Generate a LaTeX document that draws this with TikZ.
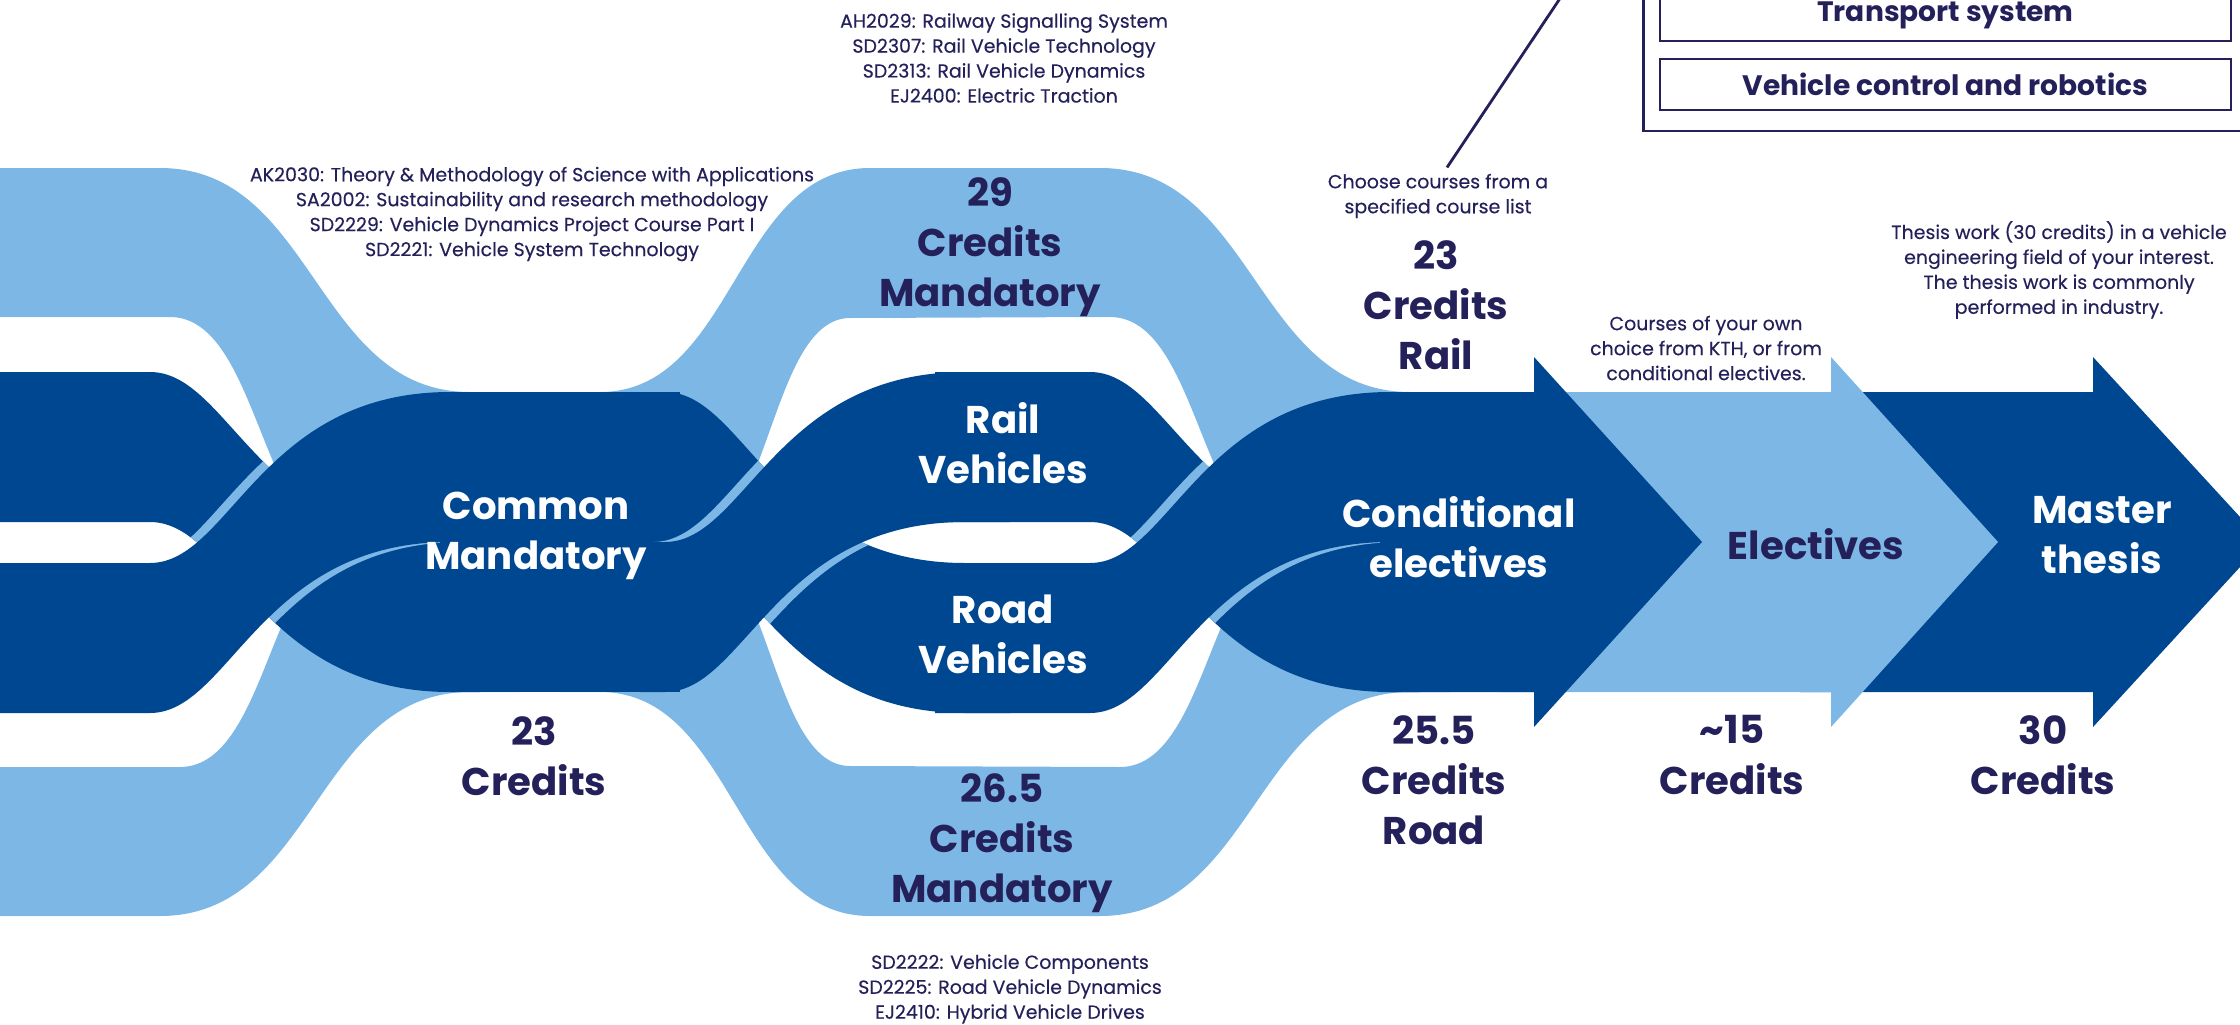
\documentclass[tikz,border=0pt]{standalone}
\usepackage{fontspec}
\setmainfont{Poppins}
\newfontfamily\notefont{Poppins}[FakeBold=0.3]
\definecolor{kthblue}{HTML}{004791}
\definecolor{skyblue}{HTML}{7DB7E6}
\definecolor{inknavy}{HTML}{24205A}

% outlines of the crossing tracks (picture units are pixels, y down)
\newcommand{\bandDone}{(-5,372) -- (150,372) .. controls (230,372) and (260,542) .. (450,542) -- (480,542) -- (480,692) -- (450,692) .. controls (260,692) and (230,522) .. (150,522) -- (-5,522) -- cycle}
\newcommand{\bandFone}{(-5,563) -- (150,563) .. controls (230,563) and (260,392) .. (450,392) -- (480,392) -- (480,542) -- (450,542) .. controls (260,542) and (230,713) .. (150,713) -- (-5,713) -- cycle}
\newcommand{\bandDtwo}{(640,392) -- (665,392) .. controls (745,392) and (775,563) .. (965,563) -- (1010,563) -- (1010,713) -- (965,713) .. controls (775,713) and (745,542) .. (665,542) -- (640,542) -- cycle}
\newcommand{\bandFtwo}{(640,542) -- (665,542) .. controls (745,542) and (775,372) .. (965,372) -- (1010,372) -- (1010,522) -- (965,522) .. controls (775,522) and (745,692) .. (665,692) -- (640,692) -- cycle}

\begin{document}
\begin{tikzpicture}[x=0.02cm, y=-0.02cm,
  bigtxt/.style={font=\fontsize{22}{28.5}\selectfont\bfseries, align=center, inner sep=0pt},
  smalltxt/.style={font=\fontsize{10.8}{14.2}\selectfont\notefont, align=center, inner sep=0pt, text=inknavy},
  trackbox/.style={draw=inknavy, line width=1.1pt, minimum width=11.42cm, minimum height=1.02cm, inner sep=0pt, font=\fontsize{16}{20}\selectfont\bfseries, text=inknavy}]
  \useasboundingbox (0,0) rectangle (2240,1024);
  \clip (0,0) rectangle (2240,1024);

  % light flows
  \fill[skyblue] (-5,168) -- (160,168) .. controls (315,168) and (315,392) .. (470,392) -- (520,392) -- (520,542) -- (350,542) .. controls (260,542) and (260,317) .. (170,317) -- (-5,317) -- cycle;
  \fill[skyblue] (-5,916) -- (160,916) .. controls (315,916) and (315,692) .. (470,692) -- (520,692) -- (520,542) -- (360,542) .. controls (270,542) and (270,767) .. (180,767) -- (-5,767) -- cycle;
  \fill[skyblue] (560,392) -- (600,392) .. controls (735,392) and (735,168) .. (870,168) -- (1100,168) .. controls (1255,168) and (1255,392) .. (1410,392) -- (1450,392) -- (1450,542) -- (1290,542) .. controls (1200,542) and (1200,317) .. (1110,317) -- (850,318) .. controls (770,318) and (770,542) .. (690,542) -- (560,542) -- cycle;
  \fill[skyblue] (560,692) -- (600,692) .. controls (735,692) and (735,916) .. (870,916) -- (1100,916) .. controls (1255,916) and (1255,692) .. (1410,692) -- (1450,692) -- (1450,542) -- (1300,542) .. controls (1210,542) and (1210,767) .. (1120,767) -- (850,766) .. controls (770,766) and (770,542) .. (690,542) -- (560,542) -- cycle;

  % final arrows
  \fill[kthblue] (1800,392) -- (2093,392) -- (2093,357) -- (2263,542) -- (2093,727) -- (2093,692) -- (1800,692) -- cycle;
  \fill[skyblue] (1500,392) -- (1831,392) -- (1831,357) -- (1998,542) -- (1831,727) -- (1831,692) -- (1500,692) -- cycle;

  % first crossing
  \fill[kthblue] \bandDone;
  \begin{scope}
    \clip \bandDone;
    \fill[skyblue, shift={(-12,0)}] \bandFone;
    \fill[skyblue, shift={(12,0)}] \bandFone;
  \end{scope}
  \fill[kthblue] \bandFone;
  \fill[kthblue] (440,392) rectangle (680,692);

  % second crossing
  \fill[kthblue] \bandDtwo;
  \begin{scope}
    \clip \bandDtwo;
    \fill[skyblue, shift={(-12,0)}] \bandFtwo;
    \fill[skyblue, shift={(12,0)}] \bandFtwo;
  \end{scope}
  \fill[kthblue] \bandFtwo;

  % third crossing
  \begin{scope}[shift={(940,0)}]
    \fill[kthblue] \bandDone;
    \begin{scope}
      \clip \bandDone;
      \fill[skyblue, shift={(-12,0)}] \bandFone;
      \fill[skyblue, shift={(12,0)}] \bandFone;
    \end{scope}
    \fill[kthblue] \bandFone;
  \end{scope}
  \fill[kthblue] (1380,392) -- (1534,392) -- (1534,357) -- (1702,542) -- (1534,727) -- (1534,692) -- (1380,692) -- cycle;

  % stage labels
  \node[bigtxt, text=white] (common) at (536,536) {Common\\Mandatory};
  \node[bigtxt, text=inknavy] (commoncr) at (534,756) {23\\Credits};
  \node[bigtxt, text=inknavy] (railcr) at (990,247) {29\\Credits\\Mandatory};
  \node[bigtxt, text=white] (rail) at (1003,443) {Rail\\Vehicles};
  \node[bigtxt, text=white] (road) at (1003,634) {Road\\Vehicles};
  \node[bigtxt, text=inknavy] (roadcr) at (1002,843) {26.5\\Credits\\Mandatory};
  \node[bigtxt, text=white] (condel) at (1459,537) {Conditional\\electives};
  \node[bigtxt, text=inknavy] (condrail) at (1436,305) {23\\Credits\\Rail};
  \node[bigtxt, text=inknavy] (condroad) at (1434,780) {25.5\\Credits\\Road};
  \node[bigtxt, text=inknavy] (elect) at (1816,544) {Electives};
  \node[bigtxt, text=inknavy] (electcr) at (1732,755) {\textasciitilde15\\Credits};
  \node[bigtxt, text=white] (thesis) at (2102,535) {Master\\thesis};
  \node[bigtxt, text=inknavy] (thesiscr) at (2043,755) {30\\Credits};

  % course notes
  \node[smalltxt] (commonlist) at (532,214) {AK2030: Theory \& Methodology of Science with Applications\\SA2002: Sustainability and research methodology\\SD2229: Vehicle Dynamics Project Course Part I\\SD2221: Vehicle System Technology};
  \node[smalltxt] (raillist) at (1004,58) {AH2029: Railway Signalling System\\SD2307: Rail Vehicle Technology\\SD2313: Rail Vehicle Dynamics\\EJ2400: Electric Traction};
  \node[smalltxt] (roadlist) at (1010,989) {SD2222: Vehicle Components\\SD2225: Road Vehicle Dynamics\\EJ2410: Hybrid Vehicle Drives};
  \node[smalltxt] (choose) at (1438,196) {Choose courses from a\\specified course list};
  \node[smalltxt] (owncourses) at (1706,348) {Courses of your own\\choice from KTH, or from\\conditional electives.};
  \node[smalltxt] (thesiswork) at (2059,270) {Thesis work (30 credits) in a vehicle\\engineering field of your interest.\\The thesis work is commonly\\performed in industry.};

  % track list, top right
  \draw[inknavy, line width=1.7pt] (1643,-40) rectangle (2260,131);
  \node[trackbox] (transport) at (1945.5,15.5) {Transport system};
  \node[trackbox] (robotics) at (1945.5,84.5) {Vehicle control and robotics};
  \coordinate (framelink) at (1579,-30);
  \draw[inknavy, line width=1.6pt] (choose.north) ++(9,-6) -- (framelink);
\end{tikzpicture}
\end{document}
